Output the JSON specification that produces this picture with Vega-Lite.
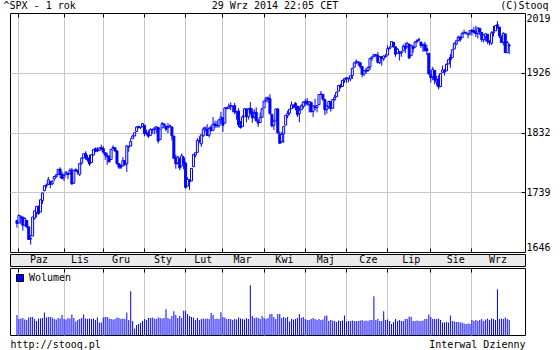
{
"$schema": "https://vega.github.io/schema/vega-lite/v6.json",
"background": "white",
"padding": {"left": 2, "top": -1, "right": 0, "bottom": 0},
"spacing": 0,
"resolve": {"legend": {"color": "independent"}},
"config": {
  "font": "DejaVu Sans Mono",
  "view": {"stroke": "black", "strokeWidth": 1},
  "axis": {"labelFont": "DejaVu Sans Mono", "labelFontSize": 10, "labelColor": "black", "titleFont": "DejaVu Sans Mono", "titleFontSize": 10, "titleFontWeight": "normal", "titleColor": "black", "gridColor": "#c8c8c8", "tickColor": "black", "domain": false},
  "legend": {"orient": "top-left", "offset": 5, "padding": 0, "symbolType": "square", "symbolSize": 49, "symbolStrokeColor": "black", "symbolStrokeWidth": 1, "labelFont": "DejaVu Sans Mono", "labelFontSize": 10, "labelColor": "black", "labelOffset": 4, "title": null}
},
"datasets": {
"mies": [{"m":"Paz","pos":13.5},{"m":"Lis","pos":34},{"m":"Gru","pos":54.5},{"m":"Sty","pos":75.5},{"m":"Lut","pos":95.6},{"m":"Mar","pos":115.3},{"m":"Kwi","pos":136.2},{"m":"Maj","pos":156.9},{"m":"Cze","pos":178.2},{"m":"Lip","pos":199.6},{"m":"Sie","pos":221.9},{"m":"Wrz","pos":243}],
"px": [
{"i":0,"o":1695.3,"h":1695.3,"l":1684.0,"c":1690.6,"v":3800},
{"i":1,"o":1691.4,"h":1704.6,"l":1691.1,"c":1703.0,"v":3040},
{"i":2,"o":1699.9,"h":1701.9,"l":1689.3,"c":1701.9,"v":3135},
{"i":3,"o":1700.4,"h":1700.4,"l":1679.4,"c":1687.7,"v":3230},
{"i":4,"o":1687.8,"h":1699.9,"l":1686.3,"c":1698.5,"v":2945},
{"i":5,"o":1695.2,"h":1695.2,"l":1683.7,"c":1685.1,"v":2850},
{"i":6,"o":1685.2,"h":1685.8,"l":1665.0,"c":1665.5,"v":3325},
{"i":7,"o":1667.0,"h":1672.5,"l":1657.5,"c":1666.4,"v":3420},
{"i":8,"o":1670.9,"h":1700.6,"l":1670.9,"c":1700.6,"v":3420},
{"i":9,"o":1699.1,"h":1710.4,"l":1696.5,"c":1710.2,"v":3040},
{"i":10,"o":1707.9,"h":1718.0,"l":1700.1,"c":1717.1,"v":2660},
{"i":11,"o":1716.2,"h":1718.6,"l":1703.9,"c":1706.1,"v":3135},
{"i":12,"o":1708.5,"h":1727.8,"l":1708.5,"c":1727.5,"v":3135},
{"i":13,"o":1726.2,"h":1738.5,"l":1721.1,"c":1738.2,"v":3230},
{"i":14,"o":1741.7,"h":1750.3,"l":1740.7,"c":1749.5,"v":4275},
{"i":15,"o":1750.2,"h":1752.8,"l":1745.7,"c":1749.7,"v":3325},
{"i":16,"o":1751.5,"h":1763.3,"l":1751.5,"c":1758.7,"v":3420},
{"i":17,"o":1756.3,"h":1756.3,"l":1745.5,"c":1751.4,"v":3420},
{"i":18,"o":1752.5,"h":1757.9,"l":1750.5,"c":1756.1,"v":3325},
{"i":19,"o":1760.0,"h":1763.8,"l":1756.5,"c":1763.8,"v":3040},
{"i":20,"o":1763.4,"h":1768.0,"l":1761.7,"c":1766.1,"v":2945},
{"i":21,"o":1766.9,"h":1775.1,"l":1766.9,"c":1775.0,"v":3230},
{"i":22,"o":1775.3,"h":1778.2,"l":1761.2,"c":1767.3,"v":3135},
{"i":23,"o":1767.2,"h":1771.5,"l":1759.7,"c":1760.5,"v":3800},
{"i":24,"o":1762.7,"h":1768.7,"l":1756.7,"c":1765.6,"v":3040},
{"i":25,"o":1767.4,"h":1771.8,"l":1765.6,"c":1770.9,"v":2945},
{"i":26,"o":1768.7,"h":1770.0,"l":1759.8,"c":1767.0,"v":3230},
{"i":27,"o":1768.0,"h":1776.7,"l":1767.4,"c":1773.5,"v":3135},
{"i":28,"o":1773.7,"h":1777.5,"l":1751.2,"c":1752.2,"v":3895},
{"i":29,"o":1753.4,"h":1773.8,"l":1752.6,"c":1773.6,"v":3230},
{"i":30,"o":1773.0,"h":1776.4,"l":1770.9,"c":1774.9,"v":2565},
{"i":31,"o":1772.5,"h":1774.8,"l":1766.3,"c":1770.7,"v":2850},
{"i":32,"o":1767.4,"h":1784.0,"l":1764.6,"c":1784.0,"v":3040},
{"i":33,"o":1784.8,"h":1793.5,"l":1782.2,"c":1792.6,"v":3230},
{"i":34,"o":1792.7,"h":1799.2,"l":1792.7,"c":1799.2,"v":3895},
{"i":35,"o":1799.8,"h":1803.3,"l":1790.0,"c":1793.5,"v":3135},
{"i":36,"o":1792.8,"h":1797.5,"l":1786.7,"c":1789.9,"v":3040},
{"i":37,"o":1791.6,"h":1797.7,"l":1780.2,"c":1783.4,"v":3135},
{"i":38,"o":1785.5,"h":1798.2,"l":1785.5,"c":1797.9,"v":3040},
{"i":39,"o":1797.2,"h":1805.8,"l":1796.7,"c":1805.8,"v":3135},
{"i":40,"o":1807.3,"h":1809.1,"l":1801.6,"c":1803.5,"v":2850},
{"i":41,"o":1803.9,"h":1809.4,"l":1801.8,"c":1803.8,"v":3325},
{"i":42,"o":1804.5,"h":1809.3,"l":1803.8,"c":1808.2,"v":2375},
{"i":43,"o":1809.0,"h":1813.6,"l":1805.0,"c":1806.8,"v":2375},
{"i":44,"o":1807.6,"h":1811.0,"l":1799.6,"c":1801.9,"v":3325},
{"i":45,"o":1801.1,"h":1801.1,"l":1789.9,"c":1797.2,"v":3420},
{"i":46,"o":1796.2,"h":1800.8,"l":1782.1,"c":1794.8,"v":3420},
{"i":47,"o":1794.8,"h":1797.1,"l":1785.4,"c":1787.0,"v":3135},
{"i":48,"o":1790.4,"h":1807.0,"l":1790.4,"c":1806.1,"v":3040},
{"i":49,"o":1807.2,"h":1812.5,"l":1807.2,"c":1809.4,"v":2945},
{"i":50,"o":1808.6,"h":1809.5,"l":1802.8,"c":1803.6,"v":3040},
{"i":51,"o":1803.8,"h":1804.0,"l":1782.1,"c":1784.2,"v":3325},
{"i":52,"o":1783.7,"h":1785.0,"l":1775.3,"c":1778.5,"v":3230},
{"i":53,"o":1781.0,"h":1782.9,"l":1775.5,"c":1778.3,"v":3040},
{"i":54,"o":1780.5,"h":1794.2,"l":1780.5,"c":1788.5,"v":3135},
{"i":55,"o":1788.5,"h":1788.8,"l":1780.1,"c":1783.0,"v":3040},
{"i":56,"o":1783.5,"h":1812.1,"l":1771.0,"c":1811.7,"v":4275},
{"i":57,"o":1810.0,"h":1811.9,"l":1802.4,"c":1810.6,"v":2850},
{"i":58,"o":1811.4,"h":1823.8,"l":1811.3,"c":1818.3,"v":8360},
{"i":59,"o":1822.9,"h":1828.8,"l":1822.9,"c":1827.0,"v":2660},
{"i":60,"o":1827.0,"h":1832.3,"l":1827.0,"c":1832.3,"v":1235},
{"i":61,"o":1834.0,"h":1841.8,"l":1834.0,"c":1841.0,"v":1900},
{"i":62,"o":1842.0,"h":1842.9,"l":1838.8,"c":1840.4,"v":2090},
{"i":63,"o":1840.5,"h":1841.5,"l":1837.8,"c":1840.1,"v":2280},
{"i":64,"o":1841.6,"h":1847.4,"l":1841.4,"c":1846.4,"v":2660},
{"i":65,"o":1843.9,"h":1843.9,"l":1826.7,"c":1831.0,"v":3040},
{"i":66,"o":1832.2,"h":1837.2,"l":1828.1,"c":1830.4,"v":2850},
{"i":67,"o":1831.3,"h":1836.2,"l":1823.7,"c":1826.8,"v":3230},
{"i":68,"o":1827.7,"h":1839.1,"l":1827.7,"c":1836.9,"v":3230},
{"i":69,"o":1836.9,"h":1839.0,"l":1830.4,"c":1836.5,"v":3325},
{"i":70,"o":1838.0,"h":1841.2,"l":1829.4,"c":1837.1,"v":3135},
{"i":71,"o":1839.1,"h":1841.6,"l":1831.4,"c":1841.4,"v":3040},
{"i":72,"o":1840.3,"h":1841.5,"l":1815.5,"c":1819.2,"v":3325},
{"i":73,"o":1821.4,"h":1838.3,"l":1821.4,"c":1837.9,"v":3230},
{"i":74,"o":1839.5,"h":1848.8,"l":1839.5,"c":1846.4,"v":3135},
{"i":75,"o":1846.0,"h":1846.0,"l":1839.3,"c":1843.9,"v":3230},
{"i":76,"o":1842.2,"h":1844.0,"l":1834.2,"c":1837.7,"v":4940},
{"i":77,"o":1840.0,"h":1847.3,"l":1831.4,"c":1841.8,"v":3230},
{"i":78,"o":1842.7,"h":1844.9,"l":1839.9,"c":1842.9,"v":3040},
{"i":79,"o":1841.3,"h":1841.3,"l":1820.1,"c":1827.5,"v":3610},
{"i":80,"o":1827.0,"h":1827.0,"l":1792.3,"c":1792.3,"v":4560},
{"i":81,"o":1793.0,"h":1798.0,"l":1775.9,"c":1783.6,"v":3800},
{"i":82,"o":1785.0,"h":1795.9,"l":1782.5,"c":1794.5,"v":3230},
{"i":83,"o":1792.2,"h":1792.2,"l":1773.5,"c":1777.2,"v":3610},
{"i":84,"o":1780.2,"h":1799.8,"l":1780.2,"c":1796.2,"v":3230},
{"i":85,"o":1792.9,"h":1795.9,"l":1775.3,"c":1784.6,"v":4655},
{"i":86,"o":1784.7,"h":1786.8,"l":1744.7,"c":1746.9,"v":4655},
{"i":87,"o":1748.8,"h":1762.7,"l":1748.8,"c":1759.2,"v":3990},
{"i":88,"o":1757.4,"h":1759.8,"l":1742.9,"c":1755.6,"v":3610},
{"i":89,"o":1757.0,"h":1777.1,"l":1757.0,"c":1776.4,"v":3420},
{"i":90,"o":1779.0,"h":1799.0,"l":1779.0,"c":1798.0,"v":3325},
{"i":91,"o":1797.2,"h":1800.9,"l":1793.8,"c":1800.8,"v":2850},
{"i":92,"o":1801.5,"h":1823.5,"l":1801.4,"c":1819.8,"v":3230},
{"i":93,"o":1820.1,"h":1826.6,"l":1816.0,"c":1819.3,"v":2850},
{"i":94,"o":1814.8,"h":1829.3,"l":1810.2,"c":1828.8,"v":3040},
{"i":95,"o":1827.5,"h":1840.7,"l":1825.6,"c":1837.6,"v":3135},
{"i":96,"o":1838.0,"h":1841.9,"l":1834.0,"c":1839.8,"v":3040},
{"i":97,"o":1837.2,"h":1845.5,"l":1827.0,"c":1827.8,"v":3135},
{"i":98,"o":1828.2,"h":1841.8,"l":1824.6,"c":1838.8,"v":3040},
{"i":99,"o":1840.1,"h":1844.1,"l":1834.6,"c":1835.3,"v":4180},
{"i":100,"o":1835.8,"h":1856.7,"l":1835.8,"c":1845.6,"v":3800},
{"i":101,"o":1845.7,"h":1850.9,"l":1839.2,"c":1843.1,"v":3040},
{"i":102,"o":1843.8,"h":1850.7,"l":1839.7,"c":1843.2,"v":3135},
{"i":103,"o":1842.9,"h":1852.5,"l":1840.1,"c":1852.3,"v":3040},
{"i":104,"o":1853.1,"h":1864.9,"l":1845.7,"c":1856.5,"v":4370},
{"i":105,"o":1855.7,"h":1855.7,"l":1833.4,"c":1843.7,"v":3420},
{"i":106,"o":1847.2,"h":1872.2,"l":1847.2,"c":1870.9,"v":3325},
{"i":107,"o":1870.1,"h":1872.5,"l":1868.1,"c":1870.8,"v":3040},
{"i":108,"o":1870.2,"h":1877.9,"l":1870.2,"c":1873.0,"v":3040},
{"i":109,"o":1874.5,"h":1879.6,"l":1867.6,"c":1874.0,"v":3040},
{"i":110,"o":1873.9,"h":1873.9,"l":1864.0,"c":1873.2,"v":2850},
{"i":111,"o":1874.3,"h":1878.4,"l":1860.9,"c":1864.6,"v":3040},
{"i":112,"o":1863.2,"h":1865.4,"l":1852.4,"c":1865.2,"v":2945},
{"i":113,"o":1866.1,"h":1870.4,"l":1840.9,"c":1844.3,"v":3325},
{"i":114,"o":1843.1,"h":1850.4,"l":1838.6,"c":1840.1,"v":3135},
{"i":115,"o":1841.8,"h":1859.3,"l":1841.8,"c":1856.8,"v":3040},
{"i":116,"o":1856.9,"h":1870.8,"l":1856.9,"c":1869.3,"v":2945},
{"i":117,"o":1869.3,"h":1870.1,"l":1848.4,"c":1857.8,"v":3230},
{"i":118,"o":1857.1,"h":1870.5,"l":1852.6,"c":1869.0,"v":3040},
{"i":119,"o":1870.5,"h":1880.0,"l":1860.5,"c":1863.5,"v":9500},
{"i":120,"o":1864.7,"h":1870.3,"l":1847.7,"c":1855.4,"v":3610},
{"i":121,"o":1856.5,"h":1868.9,"l":1854.0,"c":1862.6,"v":3230},
{"i":122,"o":1864.1,"h":1871.9,"l":1850.6,"c":1850.6,"v":3325},
{"i":123,"o":1850.1,"h":1853.6,"l":1841.1,"c":1847.0,"v":3230},
{"i":124,"o":1848.1,"h":1863.6,"l":1848.1,"c":1855.6,"v":3040},
{"i":125,"o":1856.2,"h":1871.2,"l":1856.2,"c":1869.3,"v":3610},
{"i":126,"o":1871.0,"h":1881.8,"l":1871.0,"c":1881.5,"v":3230},
{"i":127,"o":1882.6,"h":1888.2,"l":1879.8,"c":1885.9,"v":3040},
{"i":128,"o":1886.4,"h":1888.8,"l":1878.7,"c":1884.8,"v":3230},
{"i":129,"o":1885.3,"h":1892.3,"l":1860.3,"c":1862.1,"v":3990},
{"i":130,"o":1860.9,"h":1861.0,"l":1840.5,"c":1843.0,"v":3990},
{"i":131,"o":1843.5,"h":1853.0,"l":1836.5,"c":1850.0,"v":3420},
{"i":132,"o":1850.6,"h":1869.4,"l":1850.4,"c":1869.2,"v":3040},
{"i":133,"o":1869.3,"h":1869.5,"l":1829.9,"c":1832.1,"v":3990},
{"i":134,"o":1829.7,"h":1834.1,"l":1814.4,"c":1815.7,"v":3990},
{"i":135,"o":1818.2,"h":1833.2,"l":1815.8,"c":1829.6,"v":3230},
{"i":136,"o":1830.5,"h":1842.0,"l":1816.3,"c":1842.0,"v":3420},
{"i":137,"o":1844.0,"h":1859.3,"l":1844.0,"c":1859.3,"v":3230},
{"i":138,"o":1858.7,"h":1866.6,"l":1854.7,"c":1861.9,"v":3420},
{"i":139,"o":1862.8,"h":1868.9,"l":1860.2,"c":1868.9,"v":2565},
{"i":140,"o":1869.6,"h":1880.9,"l":1869.6,"c":1875.6,"v":3040},
{"i":141,"o":1875.3,"h":1875.8,"l":1870.9,"c":1871.4,"v":2945},
{"i":142,"o":1878.0,"h":1880.1,"l":1867.2,"c":1874.6,"v":3040},
{"i":143,"o":1873.7,"h":1873.7,"l":1856.7,"c":1860.4,"v":3230},
{"i":144,"o":1862.0,"h":1873.0,"l":1848.6,"c":1866.4,"v":3990},
{"i":145,"o":1867.8,"h":1876.6,"l":1867.8,"c":1874.3,"v":3230},
{"i":146,"o":1873.1,"h":1881.2,"l":1869.7,"c":1880.0,"v":3420},
{"i":147,"o":1880.4,"h":1884.6,"l":1874.0,"c":1879.7,"v":3040},
{"i":148,"o":1881.3,"h":1886.3,"l":1874.5,"c":1877.1,"v":2850},
{"i":149,"o":1875.5,"h":1881.5,"l":1863.8,"c":1880.7,"v":2850},
{"i":150,"o":1879.7,"h":1879.7,"l":1864.7,"c":1864.7,"v":3040},
{"i":151,"o":1865.5,"h":1874.8,"l":1856.8,"c":1874.2,"v":3230},
{"i":152,"o":1873.4,"h":1885.1,"l":1867.1,"c":1871.6,"v":3040},
{"i":153,"o":1871.3,"h":1874.6,"l":1864.0,"c":1874.5,"v":2850},
{"i":154,"o":1876.0,"h":1892.1,"l":1876.0,"c":1891.7,"v":3040},
{"i":155,"o":1891.8,"h":1897.2,"l":1891.1,"c":1892.5,"v":2850},
{"i":156,"o":1892.1,"h":1892.1,"l":1881.8,"c":1884.5,"v":2945},
{"i":157,"o":1884.2,"h":1884.2,"l":1859.4,"c":1867.9,"v":3610},
{"i":158,"o":1868.2,"h":1874.3,"l":1861.8,"c":1873.9,"v":3705},
{"i":159,"o":1872.7,"h":1882.0,"l":1869.4,"c":1881.1,"v":2660},
{"i":160,"o":1880.9,"h":1880.9,"l":1865.1,"c":1869.8,"v":2850},
{"i":161,"o":1870.3,"h":1884.8,"l":1870.3,"c":1884.0,"v":2755},
{"i":162,"o":1884.2,"h":1891.3,"l":1881.4,"c":1887.5,"v":2660},
{"i":163,"o":1888.3,"h":1896.3,"l":1888.3,"c":1895.5,"v":2470},
{"i":164,"o":1897.0,"h":1906.3,"l":1897.0,"c":1905.9,"v":2755},
{"i":165,"o":1905.8,"h":1908.5,"l":1901.3,"c":1903.8,"v":2660},
{"i":166,"o":1904.6,"h":1914.0,"l":1903.8,"c":1914.0,"v":2755},
{"i":167,"o":1914.3,"h":1917.0,"l":1910.0,"c":1916.6,"v":3705},
{"i":168,"o":1916.9,"h":1918.9,"l":1910.0,"c":1918.0,"v":2565},
{"i":169,"o":1916.1,"h":1918.1,"l":1910.7,"c":1917.2,"v":2660},
{"i":170,"o":1916.1,"h":1921.6,"l":1912.6,"c":1920.9,"v":2660},
{"i":171,"o":1921.5,"h":1933.7,"l":1915.9,"c":1932.5,"v":2755},
{"i":172,"o":1934.4,"h":1941.4,"l":1934.4,"c":1941.4,"v":2660},
{"i":173,"o":1941.0,"h":1946.6,"l":1939.2,"c":1943.3,"v":2660},
{"i":174,"o":1942.3,"h":1942.9,"l":1936.6,"c":1942.8,"v":2660},
{"i":175,"o":1941.4,"h":1941.4,"l":1932.1,"c":1935.9,"v":2755},
{"i":176,"o":1935.4,"h":1935.4,"l":1918.8,"c":1923.1,"v":2850},
{"i":177,"o":1923.8,"h":1929.3,"l":1920.7,"c":1929.2,"v":2660},
{"i":178,"o":1927.8,"h":1933.2,"l":1923.9,"c":1929.8,"v":2755},
{"i":179,"o":1929.2,"h":1935.7,"l":1926.6,"c":1934.0,"v":2660},
{"i":180,"o":1934.7,"h":1948.7,"l":1929.9,"c":1948.0,"v":2850},
{"i":181,"o":1948.5,"h":1950.9,"l":1944.3,"c":1950.5,"v":2850},
{"i":182,"o":1951.5,"h":1954.9,"l":1950.2,"c":1953.9,"v":7410},
{"i":183,"o":1953.9,"h":1954.7,"l":1949.9,"c":1953.6,"v":2850},
{"i":184,"o":1953.0,"h":1958.2,"l":1940.3,"c":1942.0,"v":3040},
{"i":185,"o":1941.3,"h":1951.8,"l":1939.5,"c":1950.5,"v":2660},
{"i":186,"o":1950.9,"h":1950.9,"l":1936.7,"c":1948.2,"v":2660},
{"i":187,"o":1947.6,"h":1952.5,"l":1944.2,"c":1952.0,"v":4560},
{"i":188,"o":1951.8,"h":1955.2,"l":1949.2,"c":1951.2,"v":2850},
{"i":189,"o":1953.3,"h":1968.6,"l":1953.3,"c":1963.3,"v":2945},
{"i":190,"o":1963.1,"h":1966.7,"l":1962.6,"c":1964.6,"v":2660},
{"i":191,"o":1965.9,"h":1974.6,"l":1965.9,"c":1974.4,"v":2090},
{"i":192,"o":1973.2,"h":1973.2,"l":1964.9,"c":1967.7,"v":2470},
{"i":193,"o":1966.4,"h":1966.4,"l":1950.5,"c":1954.7,"v":3040},
{"i":194,"o":1956.1,"h":1964.2,"l":1956.1,"c":1962.8,"v":2660},
{"i":195,"o":1957.7,"h":1959.8,"l":1944.9,"c":1955.7,"v":2850},
{"i":196,"o":1956.8,"h":1958.7,"l":1950.6,"c":1958.6,"v":2660},
{"i":197,"o":1959.9,"h":1969.9,"l":1959.9,"c":1967.1,"v":2660},
{"i":198,"o":1967.4,"h":1972.5,"l":1956.3,"c":1963.3,"v":3040},
{"i":199,"o":1966.4,"h":1973.9,"l":1965.7,"c":1971.6,"v":3040},
{"i":200,"o":1969.8,"h":1971.8,"l":1946.6,"c":1949.1,"v":3515},
{"i":201,"o":1952.5,"h":1969.9,"l":1951.8,"c":1968.2,"v":3420},
{"i":202,"o":1966.9,"h":1966.9,"l":1956.8,"c":1963.6,"v":2660},
{"i":203,"o":1965.7,"h":1975.2,"l":1965.7,"c":1973.5,"v":2660},
{"i":204,"o":1974.3,"h":1978.2,"l":1972.4,"c":1976.0,"v":2755},
{"i":205,"o":1977.1,"h":1980.4,"l":1974.8,"c":1977.0,"v":2660},
{"i":206,"o":1973.6,"h":1973.6,"l":1964.4,"c":1968.3,"v":2660},
{"i":207,"o":1968.3,"h":1971.5,"l":1958.3,"c":1968.9,"v":2755},
{"i":208,"o":1970.0,"h":1973.9,"l":1960.0,"c":1960.0,"v":3040},
{"i":209,"o":1963.2,"h":1968.9,"l":1953.4,"c":1960.1,"v":3040},
{"i":210,"o":1956.1,"h":1956.1,"l":1923.7,"c":1923.7,"v":3895},
{"i":211,"o":1922.8,"h":1929.4,"l":1910.4,"c":1918.2,"v":3420},
{"i":212,"o":1919.6,"h":1934.9,"l":1914.2,"c":1931.0,"v":3040},
{"i":213,"o":1929.3,"h":1929.3,"l":1907.8,"c":1914.2,"v":3040},
{"i":214,"o":1911.3,"h":1920.9,"l":1905.5,"c":1914.2,"v":3040},
{"i":215,"o":1916.0,"h":1921.9,"l":1899.8,"c":1903.6,"v":3135},
{"i":216,"o":1904.4,"h":1925.4,"l":1903.0,"c":1924.6,"v":2850},
{"i":217,"o":1926.4,"h":1936.9,"l":1926.4,"c":1929.9,"v":2375},
{"i":218,"o":1928.7,"h":1931.7,"l":1921.3,"c":1926.8,"v":2375},
{"i":219,"o":1928.6,"h":1940.4,"l":1928.6,"c":1938.7,"v":2470},
{"i":220,"o":1939.4,"h":1946.2,"l":1939.4,"c":1946.2,"v":2375},
{"i":221,"o":1949.9,"h":1955.0,"l":1933.5,"c":1946.1,"v":3705},
{"i":222,"o":1949.4,"h":1962.0,"l":1949.4,"c":1961.7,"v":2660},
{"i":223,"o":1962.7,"h":1972.6,"l":1962.7,"c":1971.6,"v":2565},
{"i":224,"o":1970.5,"h":1975.8,"l":1968.6,"c":1975.5,"v":2470},
{"i":225,"o":1975.8,"h":1983.8,"l":1975.8,"c":1981.4,"v":2470},
{"i":226,"o":1981.6,"h":1982.5,"l":1973.8,"c":1977.4,"v":2375},
{"i":227,"o":1980.7,"h":1990.0,"l":1980.7,"c":1986.9,"v":2375},
{"i":228,"o":1987.6,"h":1993.0,"l":1987.6,"c":1988.0,"v":2185},
{"i":229,"o":1988.5,"h":1990.1,"l":1985.2,"c":1988.1,"v":2090},
{"i":230,"o":1986.4,"h":1987.6,"l":1979.5,"c":1985.7,"v":2185},
{"i":231,"o":1987.5,"h":1991.4,"l":1983.7,"c":1991.4,"v":2090},
{"i":232,"o":1992.1,"h":1994.1,"l":1983.9,"c":1990.3,"v":2850},
{"i":233,"o":1991.6,"h":1997.3,"l":1987.1,"c":1988.7,"v":2660},
{"i":234,"o":1989.7,"h":1999.2,"l":1981.5,"c":1986.7,"v":2850},
{"i":235,"o":1987.0,"h":1995.7,"l":1979.1,"c":1995.7,"v":2660},
{"i":236,"o":1995.2,"h":1995.2,"l":1984.6,"c":1989.5,"v":2850},
{"i":237,"o":1988.7,"h":1989.0,"l":1973.6,"c":1977.4,"v":3040},
{"i":238,"o":1977.4,"h":1985.7,"l":1973.0,"c":1984.7,"v":2660},
{"i":239,"o":1981.9,"h":1986.7,"l":1974.9,"c":1986.5,"v":2945},
{"i":240,"o":1985.7,"h":1985.7,"l":1970.3,"c":1974.5,"v":3135},
{"i":241,"o":1975.0,"h":1976.2,"l":1968.5,"c":1973.1,"v":2850},
{"i":242,"o":1971.9,"h":1990.3,"l":1969.1,"c":1988.0,"v":3135},
{"i":243,"o":1988.3,"h":1998.7,"l":1982.3,"c":1989.6,"v":3040},
{"i":244,"o":1991.1,"h":2000.3,"l":1991.1,"c":1999.4,"v":2850},
{"i":245,"o":2000.7,"h":2006.3,"l":1994.6,"c":1998.4,"v":8740},
{"i":246,"o":1997.1,"h":1997.1,"l":1980.0,"c":1983.3,"v":3040},
{"i":247,"o":1981.8,"h":1984.4,"l":1972.8,"c":1972.8,"v":3135},
{"i":248,"o":1973.3,"h":1988.8,"l":1968.6,"c":1987.3,"v":3040},
{"i":249,"o":1986.3,"h":1986.3,"l":1957.0,"c":1957.0,"v":3325},
{"i":250,"o":1957.2,"h":1975.4,"l":1957.2,"c":1972.9,"v":3040},
{"i":251,"o":1969.0,"h":1971.3,"l":1955.0,"c":1967.8,"v":2850}
]
},
"vconcat": [
{
  "width": 515, "height": 239,
  "data": {"name": "px"},
  "layer": [
    {
      "mark": {"type": "rule", "color": "#0000ff", "strokeWidth": 1},
      "encoding": {
        "x": {"field": "i", "type": "quantitative", "scale": {"domain": [-1, 256.5], "nice": false, "zero": false},
              "axis": {"orient": "bottom", "values": [0.75,23.75,43.75,64.75,85.75,104.75,125.75,146.75,167.75,188.75,210.75,231.75], "grid": true, "labels": false, "ticks": true, "tickSize": -4, "title": null}},
        "y": {"field": "l", "type": "quantitative", "scale": {"domain": [1646, 2019], "nice": false, "zero": false},
              "axis": {"orient": "right", "values": [1646,1739,1832,1926,2019], "format": "d", "grid": true,
                       "gridColor": {"condition": {"test": "datum.value == 1646 || datum.value == 2019", "value": "transparent"}, "value": "#c8c8c8"},
                       "tickColor": {"condition": {"test": "datum.value == 1646 || datum.value == 2019", "value": "transparent"}, "value": "black"},
                       "tickSize": -4, "labelPadding": 5, "labelFlush": true,
                       "title": "(C)Stooq", "titleAngle": 0, "titleAlign": "right", "titleBaseline": "alphabetic", "titleX": 23, "titleY": -5}},
        "y2": {"field": "h"}
      }
    },
    {
      "mark": {"type": "bar", "size": 2, "stroke": "#0000ff", "strokeWidth": 1},
      "encoding": {
        "x": {"field": "i", "type": "quantitative",
              "axis": {"orient": "top", "values": [0.75,23.75,43.75,64.75,85.75,104.75,125.75,146.75,167.75,188.75,210.75,231.75], "grid": false, "labels": false, "ticks": true, "tickSize": -4,
                       "title": "29 Wrz 2014 22:05 CET", "titleX": 264.5, "titleY": -5, "titleAlign": "center", "titleBaseline": "alphabetic"}},
        "y": {"field": "o", "type": "quantitative",
              "axis": {"orient": "left", "labels": false, "ticks": false, "grid": false,
                       "title": "^SPX - 1 rok", "titleAngle": 0, "titleAlign": "left", "titleBaseline": "alphabetic", "titleX": -7, "titleY": -5}},
        "y2": {"field": "c"},
        "fill": {"condition": {"test": "datum.c >= datum.o", "value": "white"}, "value": "#0000ff"}
      }
    }
  ],
  "resolve": {"axis": {"x": "independent", "y": "independent"}}
},
{
  "width": 515, "height": 12,
  "view": {"fill": "#ebebeb", "stroke": "black"},
  "data": {"name": "mies"},
  "mark": {"type": "text", "fontSize": 10, "font": "DejaVu Sans Mono", "color": "black", "baseline": "middle", "align": "center"},
  "encoding": {
    "x": {"field": "pos", "type": "quantitative", "scale": {"domain": [-1, 256.5], "nice": false, "zero": false}, "axis": null},
    "text": {"field": "m"}
  }
},
{
  "width": 515, "height": 67,
  "data": {"name": "px"},
  "mark": {"type": "bar", "size": 1},
  "encoding": {
    "x": {"field": "i", "type": "quantitative", "scale": {"domain": [-1, 256.5], "nice": false, "zero": false},
          "axis": {"orient": "top", "values": [0.75,23.75,43.75,64.75,85.75,104.75,125.75,146.75,167.75,188.75,210.75,231.75], "grid": true, "labels": false, "ticks": true, "tickSize": -4,
                   "title": "http://stooq.pl", "titleX": 0, "titleY": 79, "titleAlign": "left", "titleBaseline": "alphabetic"}},
    "y": {"field": "v", "type": "quantitative", "scale": {"domain": [0, 12800], "nice": false},
          "axis": {"orient": "right", "labels": false, "ticks": false, "grid": false,
                   "title": "Interwal Dzienny", "titleAngle": 0, "titleAlign": "right", "titleBaseline": "alphabetic", "titleX": 0, "titleY": 79}},
    "color": {"datum": "Wolumen", "type": "nominal", "scale": {"range": ["#0000ff"]}, "legend": {"title": null}}
  }
}
]
}
